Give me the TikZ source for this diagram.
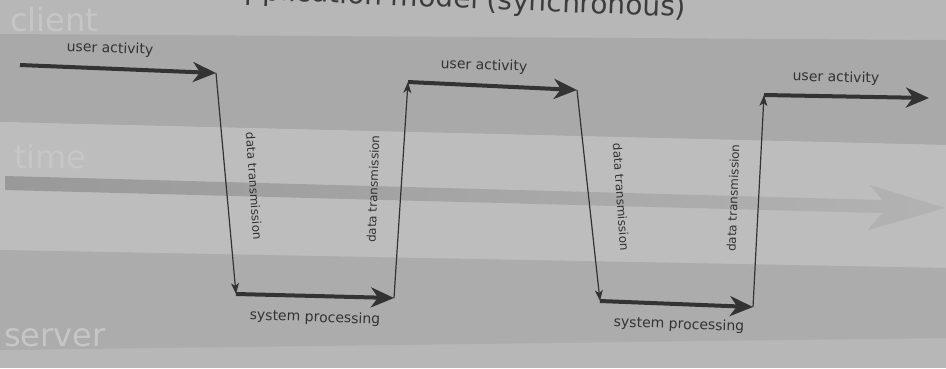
\documentclass[tikz,border=0pt]{standalone}
\usepackage{fontspec}
\setmainfont{DejaVu Sans}
\usetikzlibrary{arrows.meta}

\definecolor{pagecol}{HTML}{B7B7B7}
\definecolor{clientcol}{HTML}{A9A9A9}
\definecolor{timecol}{HTML}{BDBDBD}
\definecolor{servercol}{HTML}{ACACAC}
\definecolor{bandtext}{HTML}{C6C6C6}
\definecolor{arrowcol}{HTML}{333333}
\definecolor{titlecol}{HTML}{3C3C3C}

\tikzset{
  activity/.style={draw=arrowcol, line width=4pt,
    -{Stealth[length=23pt,width=20pt,inset=7pt]}},
  transfer/.style={draw=arrowcol, line width=1.2pt,
    -{Stealth[length=11pt,width=8pt,inset=3pt]}},
  steplabel/.style={text=arrowcol, inner sep=1pt,
    font=\fontsize{14}{16}\selectfont},
  translabel/.style={text=arrowcol, inner sep=1pt,
    font=\fontsize{12}{14}\selectfont},
  bandlabel/.style={text=bandtext, inner sep=0pt, anchor=base west,
    font=\fontsize{32}{36}\selectfont}
}

\begin{document}
\begin{tikzpicture}[x=1pt, y=-1pt]

    % First the page and the three bands
    \clip (0,0) rectangle (946,368);
    \fill[pagecol] (0,0) rectangle (946,368);
    \fill[clientcol] (0,34) -- (946,40) -- (946,145) -- (0,122) -- cycle;
    \fill[timecol] (0,122) -- (946,145) -- (946,268) -- (0,250) -- cycle;
    \fill[servercol] (0,250) -- (946,268) -- (946,338) -- (0,350) -- cycle;

    \node[bandlabel] (client) at (10,31) {client};
    \node[bandlabel] (time) at (14,168) {time};
    \node[bandlabel] (server) at (4,346) {server};

    % Next, the time arrow
    \shade[left color=black!40, right color=black!30]
      (5,176) -- (882,200) -- (870,185) -- (945,208)
      -- (868,230) -- (882,213) -- (5,190) -- cycle;

    \node[text=titlecol, font=\fontsize{28}{30}\selectfont, rotate=-2.3,
      anchor=base east, inner sep=0pt] (title) at (686,17)
      {application model (synchronous)};

    % Define the corners of the path
    \coordinate (c0) at (20,65);
    \coordinate (c1) at (216,73);
    \coordinate (s1) at (236,294);
    \coordinate (s2) at (394,298);
    \coordinate (c2) at (408,82);
    \coordinate (c3) at (577,90);
    \coordinate (s3) at (600,301);
    \coordinate (s4) at (753,307);
    \coordinate (c4) at (764,95);
    \coordinate (c5) at (929,98);

    \draw[activity] (c0) -- (c1);
    \draw[transfer] (c1) -- (s1);
    \draw[activity] (s1) -- (s2);
    \draw[transfer] (s2) -- (c2);
    \draw[activity] (c2) -- (c3);
    \draw[transfer] (c3) -- (s3);
    \draw[activity] (s3) -- (s4);
    \draw[transfer] (s4) -- (c4);
    \draw[activity] (c4) -- (c5);

    % Labels
    \node[steplabel, rotate=-2] (ua1) at (110,49) {user activity};
    \node[steplabel, rotate=-2] (ua2) at (484,66) {user activity};
    \node[steplabel, rotate=-1.5] (ua3) at (836,78) {user activity};
    \node[steplabel, rotate=-2] (sp1) at (315,318) {system processing};
    \node[steplabel, rotate=-2] (sp2) at (679,325) {system processing};
    \node[translabel, rotate=-86] (dt1) at (254,186) {data transmission};
    \node[translabel, rotate=88] (dt2) at (373,189) {data transmission};
    \node[translabel, rotate=-86] (dt3) at (621,197) {data transmission};
    \node[translabel, rotate=88] (dt4) at (733,198) {data transmission};
  \end{tikzpicture}
\end{document}
